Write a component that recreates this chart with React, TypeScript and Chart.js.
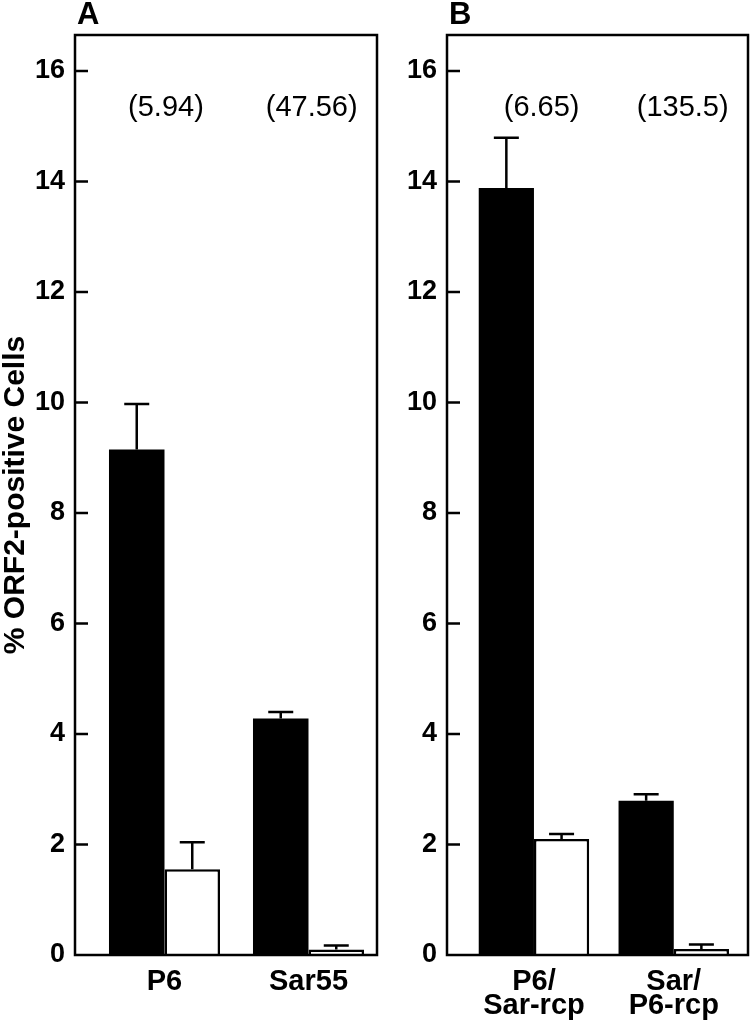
import React, { useEffect, useRef } from 'react';
import { Chart, registerables } from 'chart.js';

Chart.register(...registerables);

const FONT = '"Liberation Sans", Arial, Helvetica, sans-serif';

// Shared y axis
const yTicks = [0, 2, 4, 6, 8, 10, 12, 14, 16];
const yMax = 16.65;
const yTitle = '% ORF2-positive Cells';
const ratioY = 15.33;

// Panel A
const categoriesA = ['P6', 'Sar55'];
const blackA = [9.15, 4.28];
const blackErrA = [0.82, 0.12];
const whiteA = [1.55, 0.1];
const whiteErrA = [0.49, 0.07];
const ratiosA = ['(5.94)', '(47.56)'];

// Panel B
const categoriesB = [['P6/', 'Sar-rcp'], ['Sar/', 'P6-rcp']];
const blackB = [13.88, 2.79];
const blackErrB = [0.91, 0.12];
const whiteB = [2.1, 0.11];
const whiteErrB = [0.09, 0.08];
const ratiosB = ['(6.65)', '(135.5)'];

const decorPlugin = {
  id: 'decor',
  afterDatasetsDraw(chart: any, _args: any, opts: any) {
    const ctx = chart.ctx;
    const y = chart.scales.y;
    ctx.save();
    ctx.strokeStyle = '#000';
    ctx.lineWidth = 2.5;
    chart.data.datasets.forEach((ds: any, di: number) => {
      const meta = chart.getDatasetMeta(di);
      meta.data.forEach((bar: any, i: number) => {
        const top = y.getPixelForValue(ds.data[i].y + ds.errors[i]);
        ctx.beginPath();
        ctx.moveTo(bar.x, bar.y);
        ctx.lineTo(bar.x, top);
        ctx.moveTo(bar.x - 12.5, top);
        ctx.lineTo(bar.x + 12.5, top);
        ctx.stroke();
      });
    });
    ctx.restore();
  },
  afterDraw(chart: any, _args: any, opts: any) {
    const { ctx, chartArea: a } = chart;
    const y = chart.scales.y;
    const x = chart.scales.x;
    ctx.save();
    ctx.strokeStyle = '#000';
    ctx.lineWidth = 2.5;
    ctx.strokeRect(a.left, a.top, a.right - a.left, a.bottom - a.top);
    ctx.beginPath();
    yTicks.forEach((v) => {
      if (v === 0) return;
      const py = y.getPixelForValue(v);
      ctx.moveTo(a.left, py);
      ctx.lineTo(a.left + 13, py);
    });
    ctx.stroke();
    ctx.fillStyle = '#000';
    ctx.font = `29px ${FONT}`;
    ctx.textAlign = 'center';
    ctx.textBaseline = 'middle';
    opts.ratios.forEach((t: string, i: number) => {
      ctx.fillText(t, x.getPixelForValue(i + opts.ratioShift[i]), y.getPixelForValue(ratioY));
    });
    ctx.font = `bold 31px ${FONT}`;
    ctx.textAlign = 'left';
    ctx.textBaseline = 'alphabetic';
    ctx.fillText(opts.letter, a.left + 2, 24);
    ctx.restore();
  },
};

type PanelProps = {
  letter: string;
  categories: any[];
  black: number[];
  blackErr: number[];
  white: number[];
  whiteErr: number[];
  ratios: string[];
  ratioShift: number[];
  xMin: number;
  xMax: number;
  catPct: number;
  width: number;
  yWidth: number;
  padRight: number;
  showTitle: boolean;
  left: number;
};

function Panel(p: PanelProps) {
  const ref = useRef<HTMLCanvasElement | null>(null);
  useEffect(() => {
    if (!ref.current) return;
    const chart = new Chart(ref.current, {
      type: 'bar',
      data: {
        datasets: [
          {
            data: p.black.map((v, i) => ({ x: i, y: v })),
            errors: p.blackErr,
            backgroundColor: '#000',
            borderWidth: 0,
            barPercentage: 1,
            categoryPercentage: p.catPct,
          } as any,
          {
            data: p.white.map((v, i) => ({ x: i, y: v })),
            errors: p.whiteErr,
            backgroundColor: '#fff',
            borderColor: '#000',
            borderWidth: 2.5,
            barPercentage: 1,
            categoryPercentage: p.catPct,
          } as any,
        ],
      },
      options: {
        responsive: false,
        animation: false,
        devicePixelRatio: 1,
        layout: { padding: { top: 35, right: p.padRight, bottom: 0, left: 0 } },
        plugins: {
          legend: { display: false },
          tooltip: { enabled: false },
          decor: { letter: p.letter, ratios: p.ratios, ratioShift: p.ratioShift },
        } as any,
        scales: {
          x: {
            type: 'linear',
            min: p.xMin,
            max: p.xMax,
            offset: false,
            grid: { display: false, drawTicks: false },
            border: { display: false },
            afterBuildTicks: (s: any) => {
              s.ticks = p.categories.map((_, i) => ({ value: i }));
            },
            afterFit: (s: any) => {
              s.height = 68;
            },
            ticks: {
              autoSkip: false,
              maxRotation: 0,
              padding: 15,
              color: '#000',
              font: { family: FONT, size: 29, weight: 'bold', lineHeight: 0.83 },
              callback: (_v: any, i: number) => p.categories[i],
            },
          },
          y: {
            type: 'linear',
            min: 0,
            max: yMax,
            grid: { display: false, drawTicks: false },
            border: { display: false },
            afterBuildTicks: (s: any) => {
              s.ticks = yTicks.map((v) => ({ value: v }));
            },
            afterFit: (s: any) => {
              s.width = p.yWidth;
            },
            ticks: {
              padding: 10,
              color: '#000',
              font: { family: FONT, size: 27, weight: 'bold' },
              callback: (v: any) => String(v),
            },
            title: {
              display: p.showTitle,
              text: yTitle,
              color: '#000',
              padding: { top: 0, bottom: 0 },
              font: { family: FONT, size: 30, weight: 'bold', lineHeight: 1.05 },
            },
          },
        },
      } as any,
      plugins: [decorPlugin],
    });
    return () => chart.destroy();
  }, []);
  return (
    <canvas
      ref={ref}
      width={p.width}
      height={1023}
      style={{ position: 'absolute', left: p.left, top: 0, width: p.width, height: 1023 }}
    />
  );
}

export default function App() {
  return (
    <div style={{ position: 'absolute', left: 0, top: 0, width: 750, height: 1023, background: '#fff', overflow: 'hidden' }}>
      <Panel
        letter="A"
        categories={categoriesA}
        black={blackA}
        blackErr={blackErrA}
        white={whiteA}
        whiteErr={whiteErrA}
        ratios={ratiosA}
        ratioShift={[0.01, 0.022]}
        xMin={-0.6215}
        xMax={1.4757}
        catPct={0.771}
        width={380}
        yWidth={75}
        padRight={3}
        showTitle={true}
        left={0}
      />
      <Panel
        letter="B"
        categories={categoriesB}
        black={blackB}
        blackErr={blackErrB}
        white={whiteB}
        whiteErr={whiteErrB}
        ratios={ratiosB}
        ratioShift={[0.055, 0.064]}
        xMin={-0.622}
        xMax={1.531}
        catPct={0.79}
        width={370}
        yWidth={67}
        padRight={2}
        showTitle={false}
        left={380}
      />
    </div>
  );
}
